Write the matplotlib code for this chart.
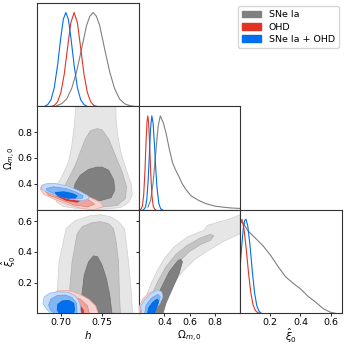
import matplotlib
matplotlib.use("Agg")
import matplotlib.pyplot as plt
from matplotlib.patches import Patch

# ---- 1D marginals (normalised to peak = 1) ----
sne_h_x = [0.695, 0.701, 0.707, 0.713, 0.719, 0.725, 0.731, 0.735, 0.739, 0.743, 0.747,
           0.753, 0.759, 0.765, 0.771, 0.777, 0.783, 0.789]
sne_h_p = [0.01, 0.03, 0.08, 0.19, 0.37, 0.61, 0.86, 0.96, 1.0, 0.96, 0.86,
           0.61, 0.37, 0.19, 0.08, 0.03, 0.01, 0.0]
ohd_h_x = [0.688, 0.692, 0.696, 0.700, 0.704, 0.708, 0.712, 0.716, 0.720, 0.724, 0.728,
           0.732, 0.736, 0.740, 0.744]
ohd_h_p = [0.0, 0.01, 0.05, 0.15, 0.34, 0.62, 0.89, 1.0, 0.89, 0.62, 0.34, 0.15, 0.05, 0.01, 0.0]
both_h_x = [0.680, 0.684, 0.688, 0.692, 0.696, 0.700, 0.703, 0.706, 0.709, 0.712, 0.716,
            0.720, 0.724, 0.728, 0.732]
both_h_p = [0.0, 0.02, 0.07, 0.20, 0.44, 0.74, 0.93, 1.0, 0.93, 0.74, 0.44, 0.20, 0.07, 0.02, 0.0]

sne_om_x = [0.27, 0.29, 0.31, 0.33, 0.35, 0.367, 0.39, 0.412, 0.438, 0.464, 0.49, 0.516,
            0.54, 0.568, 0.61, 0.672, 0.73, 0.80, 0.87, 0.93, 1.0]
sne_om_p = [0.03, 0.10, 0.29, 0.59, 0.89, 1.0, 0.93, 0.82, 0.65, 0.50, 0.42, 0.35,
            0.28, 0.22, 0.15, 0.10, 0.065, 0.04, 0.028, 0.02, 0.015]
ohd_om_x = [0.205, 0.215, 0.225, 0.235, 0.245, 0.255, 0.262, 0.268, 0.274, 0.281, 0.291,
            0.301, 0.311, 0.321, 0.331]
ohd_om_p = [0.0, 0.01, 0.04, 0.15, 0.40, 0.75, 0.94, 1.0, 0.94, 0.75, 0.40, 0.15, 0.04, 0.01, 0.0]
both_om_x = [0.23, 0.24, 0.25, 0.26, 0.27, 0.28, 0.29, 0.30, 0.31, 0.32, 0.33, 0.34,
             0.355, 0.37, 0.385]
both_om_p = [0.0, 0.01, 0.03, 0.11, 0.29, 0.58, 0.87, 1.0, 0.92, 0.71, 0.46, 0.25,
             0.07, 0.01, 0.0]

sne_xi_x = [0.0, 0.02, 0.05, 0.10, 0.15, 0.20, 0.25, 0.30, 0.35, 0.40, 0.45, 0.50,
            0.55, 0.60, 0.63]
sne_xi_p = [0.97, 0.96, 0.88, 0.80, 0.72, 0.62, 0.50, 0.39, 0.32, 0.26, 0.18, 0.12,
            0.05, 0.01, 0.0]
ohd_xi_x = [0.0, 0.011, 0.025, 0.04, 0.055, 0.07, 0.085, 0.10, 0.115, 0.13]
ohd_xi_p = [0.95, 1.0, 0.90, 0.68, 0.43, 0.22, 0.09, 0.03, 0.008, 0.0]
both_xi_x = [0.0, 0.01, 0.02, 0.03, 0.038, 0.05, 0.065, 0.08, 0.095, 0.11, 0.125, 0.14]
both_xi_p = [0.50, 0.72, 0.90, 0.99, 1.0, 0.93, 0.72, 0.45, 0.22, 0.08, 0.02, 0.0]

# ---- 2D contours (outer, middle, inner), vertices in data units ----
sne_h_om = [
    [(0.7185, 1.02), (0.7161, 0.849), (0.7132, 0.695), (0.7092, 0.567), (0.7010, 0.451),
     (0.6941, 0.375), (0.6921, 0.311), (0.6950, 0.254), (0.7031, 0.221), (0.7193, 0.205),
     (0.7477, 0.198), (0.7721, 0.213), (0.7823, 0.254), (0.7863, 0.311), (0.7855, 0.387),
     (0.7794, 0.503), (0.7729, 0.631), (0.7688, 0.772), (0.7668, 0.900), (0.7664, 1.02)],
    [(0.7437, 0.828), (0.7356, 0.810), (0.7295, 0.746), (0.7234, 0.644), (0.7173, 0.541),
     (0.7092, 0.439), (0.7031, 0.362), (0.7010, 0.298), (0.7071, 0.246), (0.7234, 0.221),
     (0.7477, 0.216), (0.7680, 0.229), (0.7782, 0.285), (0.7794, 0.375), (0.7741, 0.490),
     (0.7660, 0.618), (0.7579, 0.746), (0.7498, 0.818)],
    [(0.7437, 0.528), (0.7335, 0.510), (0.7234, 0.464), (0.7173, 0.400), (0.7153, 0.349),
     (0.7201, 0.298), (0.7315, 0.272), (0.7477, 0.267), (0.7607, 0.290), (0.7652, 0.349),
     (0.7640, 0.426), (0.7579, 0.503), (0.7498, 0.528)],
]
ohd_h_om = [
    [(0.6771, 0.387), (0.6872, 0.400), (0.7035, 0.382), (0.7197, 0.336), (0.7360, 0.290),
     (0.7481, 0.254), (0.7514, 0.221), (0.7400, 0.195), (0.7238, 0.208), (0.7075, 0.239),
     (0.6913, 0.280), (0.6791, 0.318), (0.6751, 0.357)],
    [(0.6832, 0.362), (0.6994, 0.362), (0.7157, 0.323), (0.7319, 0.280), (0.7408, 0.239),
     (0.7319, 0.218), (0.7157, 0.234), (0.6994, 0.275), (0.6852, 0.310), (0.6812, 0.341)],
    [(0.6954, 0.336), (0.7116, 0.310), (0.7246, 0.275), (0.7197, 0.254), (0.7067, 0.269),
     (0.6945, 0.305)],
]
both_h_om = [
    [(0.6759, 0.3745), (0.6812, 0.3976), (0.6933, 0.4002), (0.7075, 0.3822), (0.7218, 0.3438),
     (0.7327, 0.3053), (0.7339, 0.2797), (0.7258, 0.2669), (0.7116, 0.2771), (0.6954, 0.3053),
     (0.6824, 0.3361), (0.6767, 0.3566)],
    [(0.6824, 0.3617), (0.6913, 0.3745), (0.7055, 0.3617), (0.7177, 0.3361), (0.7270, 0.3053),
     (0.7258, 0.2848), (0.7157, 0.2848), (0.7015, 0.3053), (0.6893, 0.3284), (0.6832, 0.3463)],
    [(0.6933, 0.3310), (0.7035, 0.3361), (0.7136, 0.3233), (0.7197, 0.3053), (0.7177, 0.2874),
     (0.7096, 0.2848), (0.6994, 0.2976), (0.6941, 0.3156)],
]

sne_h_xi = [
    [(0.6954, -0.01), (0.6954, 0.117), (0.6978, 0.338), (0.7063, 0.5525), (0.7173, 0.6045),
     (0.7356, 0.637), (0.7477, 0.6435), (0.7599, 0.6305), (0.7697, 0.598), (0.7770, 0.5525),
     (0.7818, 0.338), (0.7855, 0.117), (0.7867, -0.01)],
    [(0.7088, -0.01), (0.7100, 0.117), (0.7136, 0.338), (0.7197, 0.520), (0.7258, 0.5655),
     (0.7380, 0.5915), (0.7477, 0.598), (0.7575, 0.585), (0.7636, 0.5525), (0.7672, 0.455),
     (0.7697, 0.338), (0.7709, 0.117), (0.7721, -0.01)],
    [(0.7254, -0.01), (0.7254, 0.119), (0.7282, 0.249), (0.7335, 0.336), (0.7396, 0.375),
     (0.7444, 0.369), (0.7498, 0.314), (0.7550, 0.2275), (0.7591, 0.119), (0.7620, -0.01)],
]
ohd_h_xi = [
    [(0.6913, -0.01), (0.6872, 0.065), (0.6881, 0.119), (0.6954, 0.145), (0.7096, 0.1495),
     (0.7218, 0.128), (0.7339, 0.091), (0.7421, 0.0477), (0.7457, -0.01)],
    [(0.7015, -0.01), (0.6962, 0.0542), (0.7002, 0.0975), (0.7116, 0.1127), (0.7238, 0.091),
     (0.7319, 0.0498), (0.7351, -0.01)],
    [(0.7096, -0.01), (0.7075, 0.0433), (0.7136, 0.0693), (0.7218, 0.0585), (0.7270, 0.0216),
     (0.7278, -0.01)],
]
both_h_xi = [
    [(0.6893, -0.01), (0.6824, 0.0281), (0.6783, 0.065), (0.6799, 0.1083), (0.6872, 0.1322),
     (0.6974, 0.1408), (0.7096, 0.1365), (0.7185, 0.1083), (0.7230, 0.065), (0.7246, -0.01)],
    [(0.6933, -0.01), (0.6872, 0.0216), (0.6852, 0.0542), (0.6881, 0.0932), (0.6954, 0.1148),
     (0.7055, 0.1192), (0.7136, 0.1018), (0.7189, 0.065), (0.7197, -0.01)],
    [(0.6994, -0.01), (0.6954, 0.0216), (0.6962, 0.0585), (0.7015, 0.0802), (0.7096, 0.0845),
     (0.7157, 0.065), (0.7165, 0.0216), (0.7148, -0.01)],
]

sne_om_xi = [
    [(0.19, -0.01), (0.2105, 0.0216), (0.2549, 0.1083), (0.2941, 0.195), (0.3463, 0.2816),
     (0.3986, 0.3575), (0.4770, 0.4333), (0.5815, 0.4983), (0.7122, 0.5417), (0.7386, 0.574),
     (0.9213, 0.6175), (1.0, 0.6435), (1.02, 0.655), (1.02, 0.52), (1.0, 0.52),
     (0.869, 0.47), (0.7383, 0.405), (0.6338, 0.3467), (0.5293, 0.26), (0.4247, 0.130),
     (0.3333, -0.01)],
    [(0.2471, -0.01), (0.2810, 0.0866), (0.3463, 0.2058), (0.4117, 0.3033), (0.4901, 0.3835),
     (0.5815, 0.4442), (0.6860, 0.4918), (0.7644, 0.5157), (0.7906, 0.5048), (0.7644, 0.4767),
     (0.6860, 0.4485), (0.5946, 0.4008), (0.5031, 0.325), (0.4247, 0.2275), (0.3725, 0.119),
     (0.3463, -0.01)],
    [(0.2993, -0.01), (0.3202, 0.065), (0.3725, 0.1625), (0.4378, 0.2708), (0.5031, 0.3402),
     (0.5293, 0.3531), (0.5423, 0.3358), (0.5162, 0.26), (0.4639, 0.1625), (0.4117, 0.065),
     (0.3855, -0.01)],
]
ohd_om_xi = [
    [(0.1948, -0.01), (0.2000, 0.0433), (0.2288, 0.093), (0.2732, 0.13), (0.3150, 0.145),
     (0.3411, 0.13), (0.3411, 0.0866), (0.3150, 0.0368), (0.2889, -0.01)],
    [(0.2052, -0.01), (0.2157, 0.0433), (0.2549, 0.093), (0.2941, 0.1148), (0.3150, 0.0975),
     (0.2993, 0.05), (0.2679, -0.01)],
    [(0.2288, -0.01), (0.2418, 0.0368), (0.2732, 0.0715), (0.2941, 0.065), (0.2810, 0.0281),
     (0.2627, -0.01)],
]
both_om_xi = [
    [(0.2209, -0.01), (0.2105, 0.0433), (0.2418, 0.0866), (0.2941, 0.13), (0.3463, 0.1516),
     (0.3777, 0.1408), (0.3881, 0.1083), (0.3646, 0.065), (0.3254, 0.0216), (0.3072, -0.01)],
    [(0.2418, -0.01), (0.2549, 0.054), (0.2941, 0.0975), (0.3463, 0.1235), (0.3672, 0.1083),
     (0.3516, 0.065), (0.3202, 0.0216), (0.2993, -0.01)],
    [(0.2627, -0.01), (0.2758, 0.0368), (0.3072, 0.0715), (0.3411, 0.0932), (0.3542, 0.0802),
     (0.3411, 0.0433), (0.3150, -0.01)],
]

labels = ["SNe Ia", "OHD", "SNe Ia + OHD"]
line_colors = ["#808080", "#E03424", "#006FED"]
fill_colors = [["#e6e6e6", "#c4c4c4", "#808080"],
               ["#f7d4d0", "#eea49c", "#e03424"],
               ["#c5dbf8", "#82b5f4", "#006fed"]]
edge_colors = [["#cfcfcf", "#b0b0b0", "#6e6e6e"],
               ["#eda39b", "#e47f73", "#c82a1c"],
               ["#8fb9f0", "#5d9bef", "#0060d0"]]

h_lim = (0.671, 0.794)
om_lim = (0.195, 1.0)
xi_lim = (0.0, 0.675)

fig = plt.figure(figsize=(3.45, 3.45), dpi=100)
gs = fig.add_gridspec(3, 3, left=0.107, right=0.991, top=0.991, bottom=0.092,
                      wspace=0, hspace=0)
axes = [[fig.add_subplot(gs[i, j]) if j <= i else None for j in range(3)] for i in range(3)]


def draw_contours(ax, sets):
    for k, polys in enumerate(sets):
        for lvl, poly in enumerate(polys):
            xs = [p[0] for p in poly]
            ys = [p[1] for p in poly]
            ax.fill(xs, ys, facecolor=fill_colors[k][lvl], edgecolor=edge_colors[k][lvl],
                    lw=0.5, zorder=1 + 3 * k + lvl)


# 1D panels
ax = axes[0][0]
for k, (x, p) in enumerate([(sne_h_x, sne_h_p), (ohd_h_x, ohd_h_p), (both_h_x, both_h_p)]):
    ax.plot(x, p, color=line_colors[k], lw=0.8)
ax.set_xlim(h_lim)

ax = axes[1][1]
for k, (x, p) in enumerate([(sne_om_x, sne_om_p), (ohd_om_x, ohd_om_p), (both_om_x, both_om_p)]):
    ax.plot(x, p, color=line_colors[k], lw=0.8)
ax.set_xlim(om_lim)

ax = axes[2][2]
for k, (x, p) in enumerate([(sne_xi_x, sne_xi_p), (ohd_xi_x, ohd_xi_p), (both_xi_x, both_xi_p)]):
    ax.plot(x, p, color=line_colors[k], lw=0.8)
ax.set_xlim(xi_lim)

for i in range(3):
    axes[i][i].set_ylim(0, 1.1)
    axes[i][i].set_yticks([])

# 2D panels
draw_contours(axes[1][0], [sne_h_om, ohd_h_om, both_h_om])
axes[1][0].set_xlim(h_lim)
axes[1][0].set_ylim(om_lim)
draw_contours(axes[2][0], [sne_h_xi, ohd_h_xi, both_h_xi])
axes[2][0].set_xlim(h_lim)
axes[2][0].set_ylim(xi_lim)
draw_contours(axes[2][1], [sne_om_xi, ohd_om_xi, both_om_xi])
axes[2][1].set_xlim(om_lim)
axes[2][1].set_ylim(xi_lim)

h_ticks = [0.70, 0.75]
om_ticks = [0.4, 0.6, 0.8]
xi_ticks = [0.2, 0.4, 0.6]
xticks = [h_ticks, om_ticks, xi_ticks]
for i in range(3):
    for j in range(i + 1):
        ax = axes[i][j]
        ax.set_xticks(xticks[j])
        if j < i:
            ax.set_yticks(xticks[i])
        ax.tick_params(labelsize=6.8, length=2.0, width=0.6, pad=1.5)
        for s in ax.spines.values():
            s.set_linewidth(0.8)
            s.set_color("#333333")
        if i < 2:
            ax.set_xticklabels([])
        if j > 0:
            ax.set_yticklabels([])

axes[2][0].set_xticklabels(["0.70", "0.75"])
axes[2][1].set_xticklabels(["0.4", "0.6", "0.8"])
axes[2][2].set_xticklabels(["0.2", "0.4", "0.6"])
axes[1][0].set_yticklabels(["0.4", "0.6", "0.8"])
axes[2][0].set_yticklabels(["0.2", "0.4", "0.6"])

axes[2][0].set_xlabel(r"$h$", fontsize=7.5, labelpad=1)
axes[2][1].set_xlabel(r"$\Omega_{m,0}$", fontsize=7.5, labelpad=1)
axes[2][2].set_xlabel(r"$\hat{\xi}_0$", fontsize=7.5, labelpad=0)
axes[1][0].set_ylabel(r"$\Omega_{m,0}$", fontsize=7)
axes[2][0].set_ylabel(r"$\hat{\xi}_0$", fontsize=7)
axes[1][0].yaxis.set_label_coords(-0.185, 0.5)
axes[2][0].yaxis.set_label_coords(-0.185, 0.5)

handles = [Patch(facecolor=c, edgecolor=c) for c in line_colors]
fig.legend(handles, labels, loc="upper right", bbox_to_anchor=(0.995, 0.995),
           fontsize=6.8, handlelength=2.0, handleheight=0.7, borderpad=0.4,
           labelspacing=0.35, handletextpad=0.8, frameon=True, fancybox=True)

fig.savefig("out.png", dpi=100)
